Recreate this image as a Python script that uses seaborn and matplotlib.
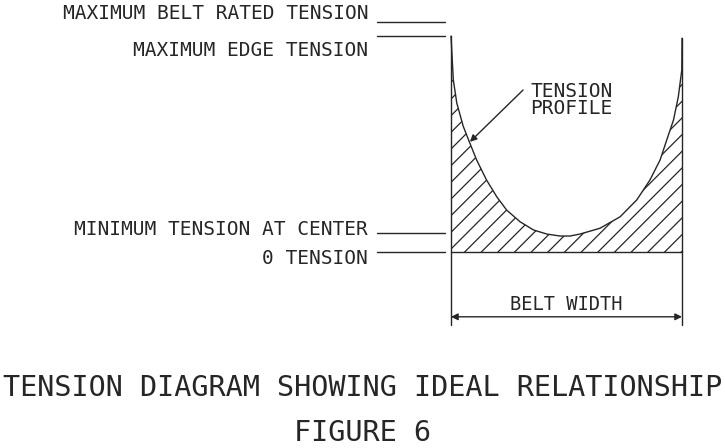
import numpy as np
import matplotlib
matplotlib.use("Agg")
import matplotlib.pyplot as plt
import seaborn as sns

# tension profile across the belt (0 = left edge, 1 = right edge)
belt_pos = [0.0, 0.010, 0.025, 0.053, 0.082, 0.111, 0.154, 0.198, 0.241, 0.299,
            0.357, 0.415, 0.472, 0.515, 0.558, 0.645, 0.732, 0.804, 0.861,
            0.905, 0.934, 0.963, 0.984, 0.999, 1.0]
tension = [100.0, 79.8, 69.0, 58.2, 50.3, 42.6, 33.3, 25.6, 19.4, 14.0,
           10.2, 8.3, 7.4, 7.4, 8.3, 11.0, 16.3, 24.1, 33.3,
           42.6, 51.9, 61.1, 71.9, 84.3, 99.0]

# reference levels on the left
level_names = ["MAXIMUM BELT RATED TENSION", "MAXIMUM EDGE TENSION",
               "MINIMUM TENSION AT CENTER", "0 TENSION"]
level_values = [106.5, 100.0, 8.8, 0.0]
label_y = [110.4, 93.5, 10.6, -3.2]

title = "TENSION DIAGRAM SHOWING IDEAL RELATIONSHIP"
subtitle = "FIGURE 6"
ink = "#262626"

sns.set_style("white")
plt.rcParams["font.family"] = ["DejaVu Sans Mono", "DejaVu Sans"]
plt.rcParams["hatch.linewidth"] = 0.9

fig = plt.figure(figsize=(7.25, 4.48), dpi=100)
ax = fig.add_axes([0, 0, 1, 1])
ax.set_xlim(-1.952, 1.186)
ax.set_ylim(-90.74, 116.67)
ax.axis("off")

# hatched area under the profile
ax.fill_between(belt_pos, 0, tension, facecolor="none", edgecolor=ink,
                hatch="//", linewidth=0)
sns.lineplot(x=belt_pos, y=tension, ax=ax, color=ink, linewidth=1.0,
             sort=False, estimator=None)
ax.plot([0, 1], [0, 0], color=ink, lw=1.0)

# belt edges, extended down for the width dimension
ax.plot([0, 0], [tension[0], -34], color=ink, lw=1.0)
ax.plot([1, 1], [tension[-1], -34], color=ink, lw=1.0)
ax.annotate("", xy=(0, -30), xytext=(1, -30),
            arrowprops=dict(arrowstyle="<|-|>", color=ink, lw=1.0,
                            mutation_scale=10, shrinkA=0, shrinkB=0))
ax.text(0.5, -28.5, "BELT WIDTH", ha="center", va="bottom", fontsize=13.5,
        color=ink)

# level markers and labels
for name, val, ty in zip(level_names, level_values, label_y):
    ax.plot([-0.32, -0.026], [val, val], color=ink, lw=1.0)
    ax.text(-0.359, ty, name, ha="right", va="center", fontsize=14, color=ink)

# profile callout
ax.text(0.342, 70.4, "TENSION\nPROFILE", ha="left", va="center",
        fontsize=14, color=ink, linespacing=0.85)
ax.annotate("", xy=(0.082, 51.0), xytext=(0.312, 75.0),
            arrowprops=dict(arrowstyle="-|>", color=ink, lw=1.0,
                            mutation_scale=10, shrinkA=0, shrinkB=0))

fig.text(0.5, 1 - 388 / 448, title, ha="center", va="center",
         fontsize=20.5, color=ink)
fig.text(0.5, 1 - 433 / 448, subtitle, ha="center", va="center",
         fontsize=20.5, color=ink)

fig.savefig("out.png", dpi=100, facecolor="white")
